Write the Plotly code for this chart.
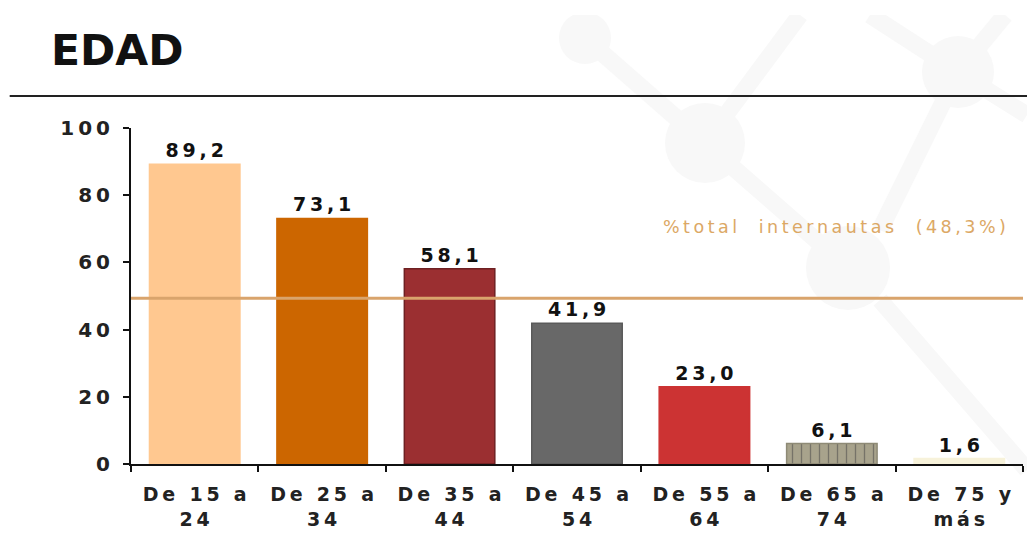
import plotly.graph_objects as go

categories = ["De 15 a<br>24", "De 25 a<br>34", "De 35 a<br>44", "De 45 a<br>54",
              "De 55 a<br>64", "De 65 a<br>74", "De 75 y<br>más"]
values = [89.2, 73.1, 58.1, 41.9, 23.0, 6.1, 1.6]
value_labels = ["89,2", "73,1", "58,1", "41,9", "23,0", "6,1", "1,6"]
bar_colors = ["#FFC890", "#CC6600", "#9B2F31", "#686868", "#CC3333", "#A8A38C", "#F7F2DA"]
line_colors = ["#FFC890", "#CC6600", "#6E2022", "#5A5A5A", "#CC3333", "#8E8A76", "#F7F2DA"]
patterns = ["", "", "", "", "", "|", ""]
total_pct = 48.3
total_label = "%total  internautas  (48,3%)"
title = "EDAD"
yticks = [0, 20, 40, 60, 80, 100]

THIN = "\u2009"


def spaced(s):
    """Widen text tracking to mimic the reference's letter-spaced font."""
    parts = s.split("<br>")
    out = []
    for p in parts:
        out.append(THIN.join(list(p)).replace(" ", "\u00a0"))
    return "<br>".join(out)


tick_text = [spaced(c) for c in categories]
label_text = [spaced(v) for v in value_labels]
ytick_text = [spaced(str(v)) for v in yticks]

# pixel -> paper helpers for decorative watermark
L, R, T, B = 131, 1023, 128, 464


def px(x):
    return (x - L) / (R - L)


def py(y):
    return (B - y) / (B - T)


fig = go.Figure()

# very faint watermark (network shape)
wm = "#F8F8F8"
nodes = [(585, 38, 26), (705, 143, 40), (958, 72, 36), (848, 268, 42)]
edges = [((585, 38), (705, 143)), ((705, 143), (848, 268)), ((705, 143), (800, 15)),
         ((958, 72), (870, 15)), ((958, 72), (1005, 15)), ((958, 72), (880, 230)),
         ((958, 72), (1027, 115)), ((880, 300), (1027, 470))]
for (a, b) in edges:
    fig.add_shape(type="line", xref="paper", yref="paper", x0=px(a[0]), y0=py(a[1]),
                  x1=px(b[0]), y1=py(b[1]), line=dict(color=wm, width=17), layer="below")
for (cx, cy, r) in nodes:
    fig.add_shape(type="circle", xref="paper", yref="paper", x0=px(cx - r), x1=px(cx + r),
                  y0=py(cy + r), y1=py(cy - r), fillcolor=wm, line=dict(width=0), layer="below")
fig.add_shape(type="rect", xref="paper", yref="paper", x0=px(0), x1=px(1027),
              y0=py(15), y1=py(-5), fillcolor="white", line=dict(width=0), layer="below")

fig.add_trace(go.Bar(
    x=categories, y=values, text=label_text, textposition="outside",
    marker=dict(color=bar_colors, line=dict(color=line_colors, width=1.5),
                pattern=dict(shape=patterns, fgcolor="#C4C0AC", size=9, solidity=0.15)),
    width=0.71, cliponaxis=False,
    textfont=dict(family="DejaVu Sans", size=19, color="#111111", weight="bold"),
    showlegend=False, hoverinfo="skip",
))

# reference line
fig.add_shape(type="line", xref="x domain", yref="y", x0=0, x1=1,
              y0=total_pct + 1, y1=total_pct + 1,
              line=dict(color="#D9A46C", width=3), layer="above")
fig.add_annotation(xref="paper", yref="y", x=0.983, y=70.5, text=spaced(total_label),
                   showarrow=False, xanchor="right",
                   font=dict(family="DejaVu Sans", size=17.5, color="#DCA865"))

# header
fig.add_annotation(xref="paper", yref="paper", x=-0.092, y=1.232, xanchor="left",
                   yanchor="middle", text="<b>" + title + "</b>", showarrow=False,
                   font=dict(family="DejaVu Sans", size=42.5, color="#111111"))
fig.add_shape(type="line", xref="paper", yref="paper", x0=-0.136, x1=1.01,
              y0=1.0952, y1=1.0952, line=dict(color="#222222", width=2))

fig.update_layout(
    width=1027, height=535,
    margin=dict(l=131, r=4, t=128, b=71, autoexpand=False),
    paper_bgcolor="white", plot_bgcolor="rgba(0,0,0,0)",
    bargap=0.29,
)
fig.update_xaxes(
    showline=True, linecolor="#111111", linewidth=2, automargin=False,
    ticks="outside", tickson="boundaries", ticklen=6, tickwidth=2, tickcolor="#111111",
    tickmode="array", tickvals=categories, ticktext=tick_text, ticklabelstandoff=12,
    tickfont=dict(family="DejaVu Sans", size=19, color="#222222", weight="bold"),
    showgrid=False, range=[-0.5, 6.5],
)
fig.update_yaxes(
    range=[0, 100], tickmode="array", tickvals=yticks, ticktext=ytick_text,
    showline=True, linecolor="#111111", linewidth=2, automargin=False,
    ticks="outside", ticklen=6, tickwidth=2, tickcolor="#111111", showgrid=False,
    zeroline=False, ticklabelstandoff=9,
    tickfont=dict(family="DejaVu Sans", size=20, color="#222222", weight="bold"),
)

fig.write_html("out.html")
